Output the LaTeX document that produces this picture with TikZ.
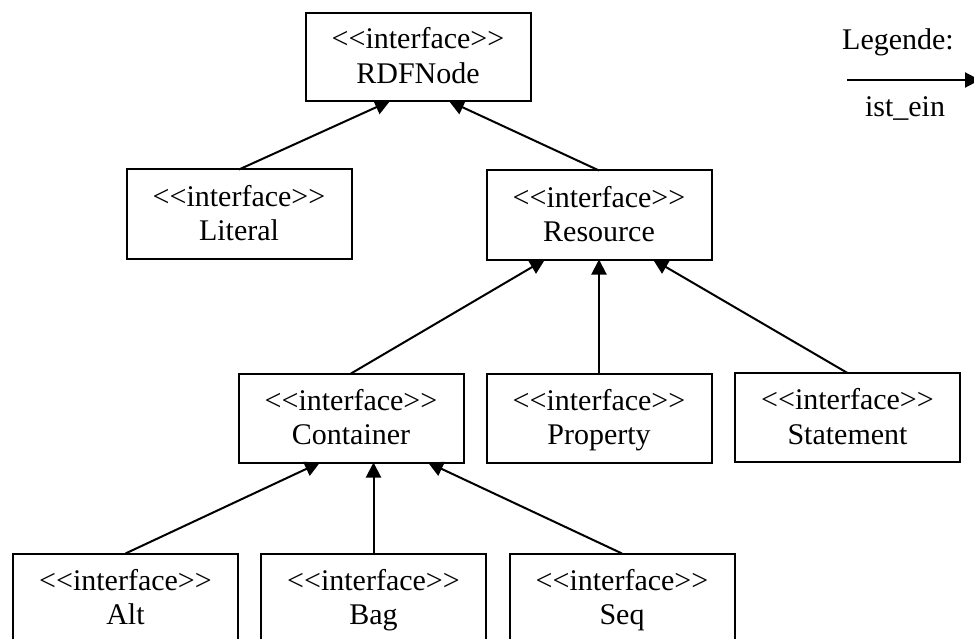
\documentclass[tikz,border=0pt]{standalone}
\usepackage{fontspec}
\setmainfont{Liberation Serif}
\usetikzlibrary{arrows.meta}

% two-line interface label with fixed line metrics
\newcommand{\ifacelabel}[1]{\raisebox{0pt}[21pt][0pt]{<{}<interface>{}>}\\\raisebox{0pt}[\height][0pt]{#1}\rule[-2.5pt]{0pt}{2.5pt}}

\begin{document}
\begin{tikzpicture}[x=1pt,y=-1pt,
  iface/.style={draw, line width=2pt, outer sep=0pt, minimum width=225pt, minimum height=89pt,
    align=center, inner sep=0pt, font=\fontsize{30}{34.5}\selectfont},
  isa/.style={line width=2pt, -{Triangle[length=15pt,width=15pt]}},
  legendtext/.style={anchor=base, inner sep=0pt, font=\fontsize{30}{34.5}\selectfont}]
\useasboundingbox (0,0) rectangle (974,639);

% class boxes
\node[iface, minimum height=88pt] (rdf) at (418,57) {\ifacelabel{RDFNode}};
\node[iface] (lit)  at (239,214)   {\ifacelabel{Literal}};
\node[iface] (res)  at (599,215)   {\ifacelabel{Resource}};
\node[iface] (cont) at (351,418)   {\ifacelabel{Container}};
\node[iface] (prop) at (599,418)   {\ifacelabel{Property}};
\node[iface] (stmt) at (847.5,417.5) {\ifacelabel{Statement}};
\node[iface] (alt)  at (125.5,598) {\ifacelabel{Alt}};
\node[iface] (bag)  at (373.5,598) {\ifacelabel{Bag}};
\node[iface] (seq)  at (622,598)   {\ifacelabel{Seq}};

% generalisation arrows
\draw[isa] (lit.north)  -- ([xshift=-28pt]rdf.south);
\draw[isa] (res.north)  -- ([xshift=31pt]rdf.south);
\draw[isa] (cont.north) -- ([xshift=-54pt]res.south);
\draw[isa] (prop.north) -- (prop.north |- res.south);
\draw[isa] (stmt.north) -- ([xshift=54pt]res.south);
\draw[isa] (alt.north)  -- ([xshift=-31pt]cont.south);
\draw[isa] (bag.north)  -- (bag.north |- cont.south);
\draw[isa] (seq.north)  -- ([xshift=77pt]cont.south);

% legend
\node[legendtext] (legtitle) at (898,50) {Legende:};
\coordinate (legfrom) at (847,80);
\coordinate (legto) at (980,80);
\draw[isa] (legfrom) -- (legto);
\node[legendtext] (legname) at (905,117) {ist\_ein};
\end{tikzpicture}
\end{document}
